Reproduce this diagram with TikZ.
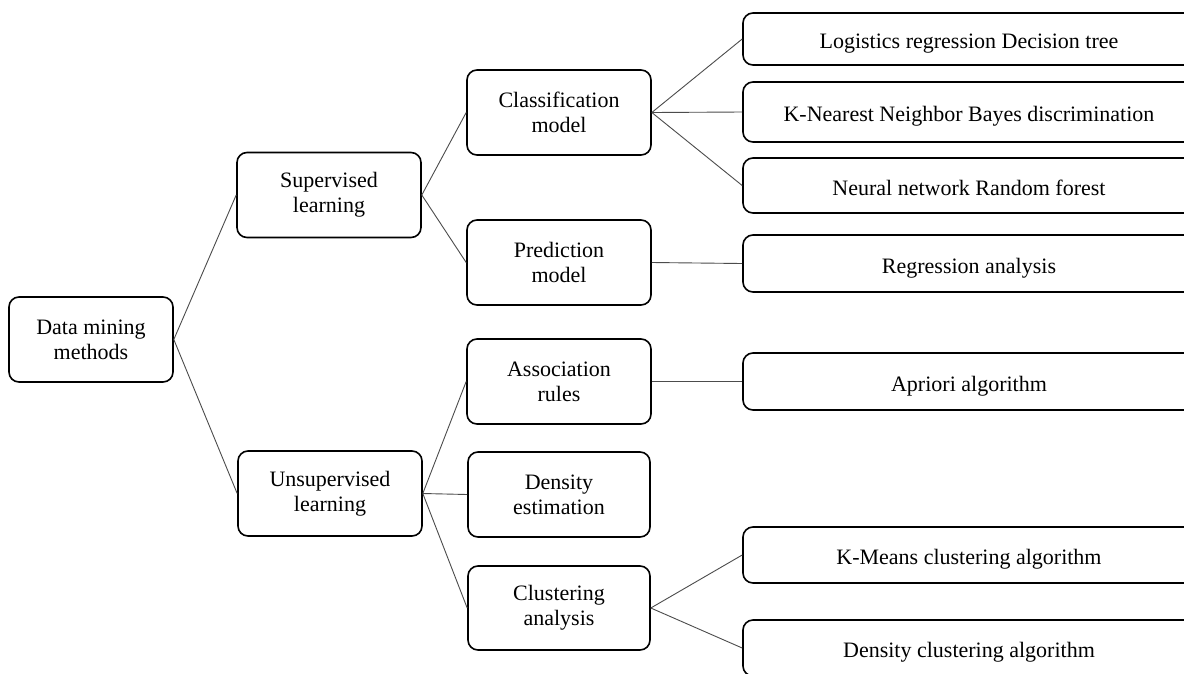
\documentclass[tikz,border=0pt]{standalone}
\usepackage{fontspec}
\setmainfont{Liberation Serif}
\begin{document}
\begin{tikzpicture}[x=1pt,y=1pt,
  box/.style={draw=black, line width=1.6pt, rounded corners=10pt, align=center,
    font=\fontsize{22}{25}\selectfont, inner sep=0pt},
  midbox/.style={box, minimum width=184pt, minimum height=85pt},
  leafbox/.style={box, minimum width=452pt, text height=24pt, text depth=5pt},
  link/.style={draw=black!70, line width=0.9pt}]
\useasboundingbox (0,0) rectangle (1184,-673);
\clip (0,0) rectangle (1184,-673);
\fill[white] (0,0) rectangle (1184,-673);
% nodes
\node[box, minimum width=164pt, minimum height=85pt] (dm) at (91,-339.5) {Data mining\\methods};
\node[midbox] (sup) at (329,-195) {Supervised\\learning};
\node[midbox] (uns) at (330,-493.5) {Unsupervised\\learning};
\node[midbox] (cls) at (559,-112.5) {Classification\\model};
\node[midbox] (pre) at (559,-262.5) {Prediction\\model};
\node[midbox] (ass) at (559,-381.5) {Association\\rules};
\node[midbox, minimum width=182pt] (den) at (559,-494.5) {Density\\estimation};
\node[midbox, minimum width=182pt, minimum height=84pt] (clu) at (559,-608) {Clustering\\analysis};
\node[leafbox, minimum height=52pt] (log) at (969,-39) {Logistics regression Decision tree};
\node[leafbox, minimum height=60pt] (knn) at (969,-112) {K-Nearest Neighbor Bayes discrimination};
\node[leafbox, minimum height=55pt] (neu) at (969,-185.5) {Neural network Random forest};
\node[leafbox, minimum height=57pt] (reg) at (969,-263.5) {Regression analysis};
\node[leafbox, minimum height=57pt] (apr) at (969,-381.5) {Apriori algorithm};
\node[leafbox, minimum height=56pt] (kme) at (969,-555) {K-Means clustering algorithm};
\node[leafbox, minimum height=56pt] (dcl) at (969,-648) {Density clustering algorithm};
% connectors
\draw[link] (dm.east) -- (sup.west);
\draw[link] (dm.east) -- (uns.west);
\draw[link] (sup.east) -- (cls.west);
\draw[link] (sup.east) -- (pre.west);
\draw[link] (uns.east) -- (ass.west);
\draw[link] (uns.east) -- (den.west);
\draw[link] (uns.east) -- (clu.west);
\draw[link] (cls.east) -- (log.west);
\draw[link] (cls.east) -- (knn.west);
\draw[link] (cls.east) -- (neu.west);
\draw[link] (pre.east) -- (reg.west);
\draw[link] (ass.east) -- (apr.west);
\draw[link] (clu.east) -- (kme.west);
\draw[link] (clu.east) -- (dcl.west);
\end{tikzpicture}
\end{document}
